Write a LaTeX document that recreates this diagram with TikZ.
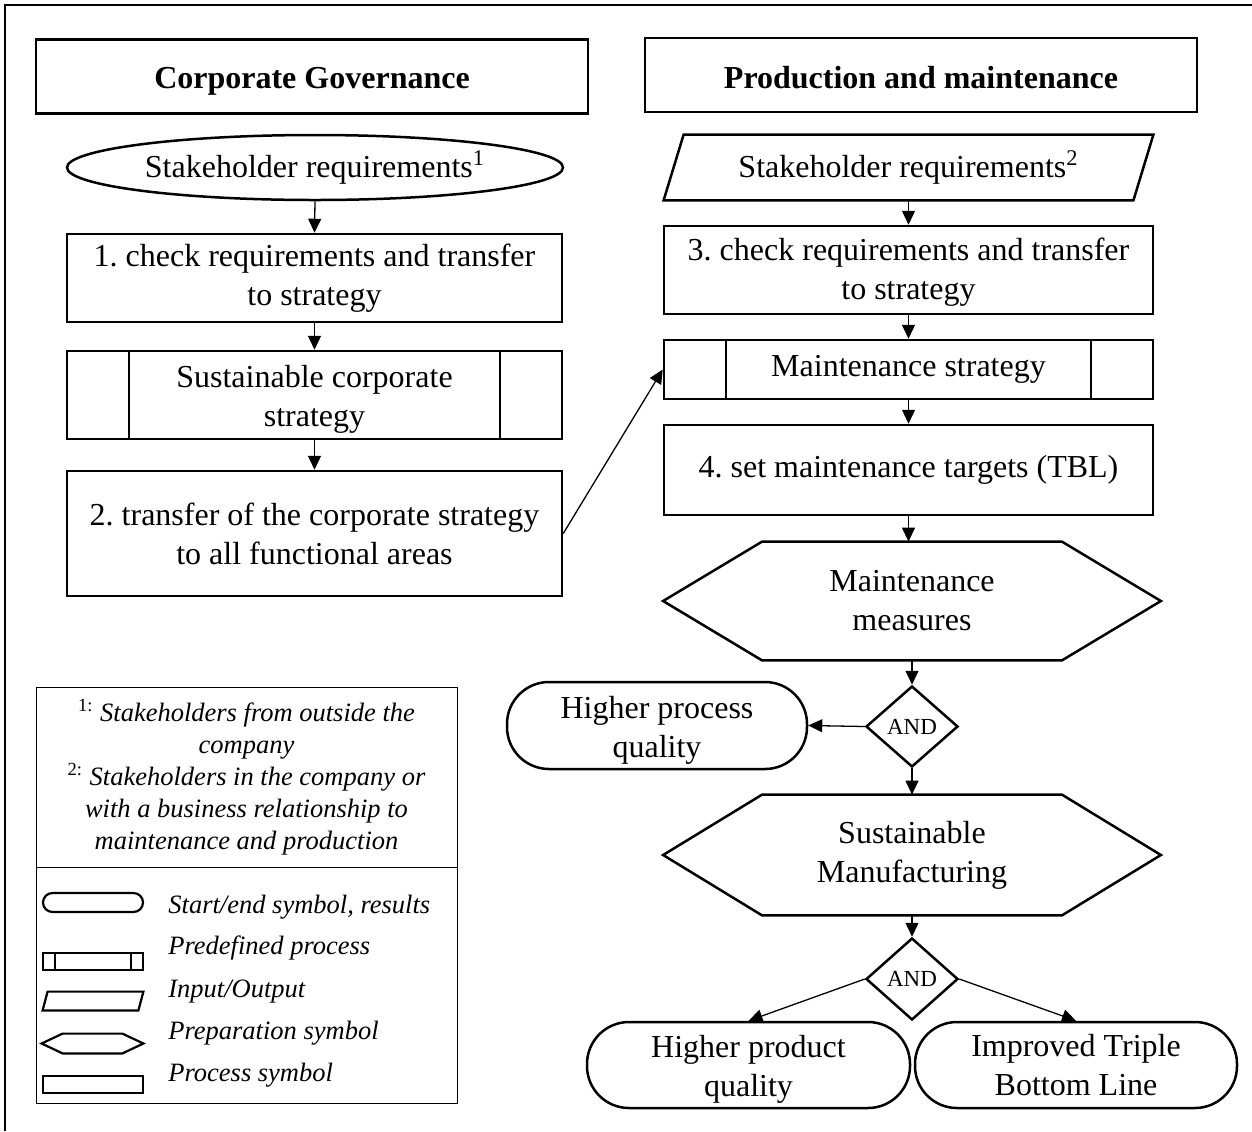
\documentclass[tikz,border=0pt]{standalone}
\usepackage{fontspec}
\setmainfont{Liberation Serif}
\usetikzlibrary{shapes.geometric,arrows.meta}
\frenchspacing
\newcommand{\upstrut}[1]{\rule{0pt}{#1}}

\begin{document}
\begin{tikzpicture}[x=0.5pt,y=-0.5pt,
  shapeline/.style={draw=black,line width=1.25pt},
  txt/.style={inner sep=0pt,align=center,font=\fontsize{16}{19.5}\selectfont},
  box/.style={shapeline,rectangle,txt},
  plain/.style={rectangle,txt},
  stadium/.style={box,rounded corners=21pt},
  heading/.style={box,font=\bfseries\fontsize{16}{19.5}\selectfont},
  lowertext/.style={execute at begin node={\rule{0pt}{#1}}},
  predef/.style={box,path picture={
     \draw[line width=1.25pt]
       ([xshift=#1]path picture bounding box.north west) -- ([xshift=#1]path picture bounding box.south west)
       ([xshift=-#1]path picture bounding box.north east) -- ([xshift=-#1]path picture bounding box.south east);}},
  andnode/.style={diamond,shapeline,inner sep=0pt,minimum width=46pt,minimum height=40.5pt,
     font=\fontsize{11.5}{13}\selectfont},
  arr/.style={line width=0.65pt,-{Triangle[length=7pt,width=6.5pt]}},
  legbox/.style={draw=black,line width=0.5pt,rectangle,inner sep=0pt,minimum width=210.5pt,
     align=center,font=\itshape\fontsize{13.25}{16}\selectfont},
  legsym/.style={draw=black,line width=1.1pt,rectangle,inner sep=0pt,minimum width=50pt,minimum height=8.5pt},
  leglabel/.style={anchor=west,inner sep=0pt,font=\itshape\fontsize{13.25}{16}\selectfont},
]
\fill[white] (0,0) rectangle (1252,1131);
\useasboundingbox (0,0) rectangle (1252,1131);

% outer frame (top and left)
\draw[line width=1.2pt] (5,1131) -- (5,5) -- (1252,5);

% ---------- left column ----------
\node[heading,lowertext=15pt,minimum width=276pt,minimum height=37pt] (cg) at (312,76.5) {Corporate Governance};
\node[ellipse,shapeline,txt,minimum width=248pt,minimum height=32.5pt] (sr1) at (315,167.5)
   {Stakeholder requirements\textsuperscript{1}};
\node[box,minimum width=247.5pt,minimum height=44pt] (b1) at (314.5,278)
   {1. check requirements and transfer\\to strategy};
\node[predef=31pt,minimum width=247.5pt,minimum height=44pt] (scs) at (314.5,395)
   {\upstrut{15pt}Sustainable corporate\\strategy};
\node[box,minimum width=247.5pt,minimum height=62.5pt] (b2) at (314.5,533.5)
   {2. transfer of the corporate strategy\\to all functional areas};

% ---------- right column ----------
\node[heading,lowertext=14pt,minimum width=276pt,minimum height=37pt] (pm) at (921,75) {Production and maintenance};
\node[plain,minimum width=244.5pt,minimum height=32.5pt] (sr2) at (908.5,167.5)
   {Stakeholder requirements\textsuperscript{2}};
\draw[shapeline] ([xshift=10pt]sr2.north west) -- (sr2.north east)
   -- ([xshift=-10pt]sr2.south east) -- (sr2.south west) -- cycle;
\node[box,minimum width=244.5pt,minimum height=44pt] (b3) at (908.5,270)
   {\upstrut{13pt}3. check requirements and transfer\\to strategy};
\node[predef=31pt,minimum width=244.5pt,minimum height=29.5pt] (ms) at (908.5,369.5)
   {Maintenance strategy};
\node[box,minimum width=244.5pt,minimum height=45pt] (b4) at (908.5,470)
   {4. set maintenance targets (TBL)};
\node[plain,minimum width=248.5pt,minimum height=59pt] (mm) at (912,601)
   {Maintenance\\measures};
\draw[shapeline] ([xshift=49.5pt]mm.north west) -- ([xshift=-49.5pt]mm.north east) -- (mm.east)
   -- ([xshift=-49.5pt]mm.south east) -- ([xshift=49.5pt]mm.south west) -- (mm.west) -- cycle;
\node[andnode] (and1) at (912,726.5) {AND};
\node[stadium,minimum width=150pt,minimum height=43.5pt] (hpq) at (657,725.5)
   {\upstrut{16pt}Higher process\\quality};
\node[plain,minimum width=248.5pt,minimum height=60pt] (sm) at (912,855)
   {Sustainable\\Manufacturing};
\draw[shapeline] ([xshift=49.5pt]sm.north west) -- ([xshift=-49.5pt]sm.north east) -- (sm.east)
   -- ([xshift=-49.5pt]sm.south east) -- ([xshift=49.5pt]sm.south west) -- (sm.west) -- cycle;
\node[andnode,minimum height=41pt] (and2) at (912,979) {AND};
\node[stadium,minimum width=161.5pt,minimum height=43pt] (hpdq) at (748.5,1065)
   {\upstrut{15pt}Higher product\\quality};
\node[stadium,minimum width=161pt,minimum height=43pt] (tbl) at (1076,1065)
   {Improved Triple\\Bottom Line};

% ---------- connectors ----------
\draw[arr] (sr1.south) -- (b1.north);
\draw[arr] (b1.south) -- (scs.north);
\draw[arr] (scs.south) -- (b2.north);
\draw[arr] (b2.east) -- (ms.west);
\draw[arr] (sr2.south) -- (b3.north);
\draw[arr] (b3.south) -- (ms.north);
\draw[arr] (ms.south) -- (b4.north);
\draw[arr] (b4.south) -- (b4.south |- mm.north);
\draw[arr] (mm.south) -- (and1.north);
\draw[arr] (and1.west) -- (hpq.east);
\draw[arr] (and1.south) -- (sm.north);
\draw[arr] (sm.south) -- (and2.north);
\draw[arr] (and2.west) -- (hpdq.north);
\draw[arr] (and2.east) -- (tbl.north);

% ---------- legend ----------
\node[legbox,minimum height=90pt] (fn) at (246.5,777)
  {{\upshape\textsuperscript{1:}} Stakeholders from outside the\\company\\
   {\upshape\textsuperscript{2:}} Stakeholders in the company or\\with a business relationship to\\
   maintenance and production};
\node[legbox,minimum height=118pt] (sym) at (246.5,985) {};

\node[legsym,minimum height=9.5pt,rounded corners=4.75pt] (ls1) at (93,902.5) {};
\node[legsym,path picture={
     \draw[line width=1.1pt]
       ([xshift=6pt]path picture bounding box.north west) -- ([xshift=6pt]path picture bounding box.south west)
       ([xshift=-6pt]path picture bounding box.north east) -- ([xshift=-6pt]path picture bounding box.south east);}]
   (ls2) at (93,961.5) {};
\node[rectangle,inner sep=0pt,minimum width=50pt,minimum height=9pt] (ls3) at (93,1001) {};
\draw[line width=1.1pt] ([xshift=2.5pt]ls3.north west) -- (ls3.north east)
   -- ([xshift=-2.5pt]ls3.south east) -- (ls3.south west) -- cycle;
\node[rectangle,inner sep=0pt,minimum width=50.5pt,minimum height=9.5pt] (ls4) at (92.5,1043.5) {};
\draw[line width=1.1pt] ([xshift=10.5pt]ls4.north west) -- ([xshift=-10.5pt]ls4.north east) -- (ls4.east)
   -- ([xshift=-10.5pt]ls4.south east) -- ([xshift=10.5pt]ls4.south west) -- (ls4.west) -- cycle;
\node[legsym] (ls5) at (93,1084.5) {};

\node[leglabel] (ll1) at (168,907) {Start/end symbol, results};
\node[leglabel] (ll2) at (168,948) {Predefined process};
\node[leglabel] (ll3) at (168,992) {Input/Output};
\node[leglabel] (ll4) at (168,1033) {Preparation symbol};
\node[leglabel] (ll5) at (168,1075) {Process symbol};
\end{tikzpicture}
\end{document}
